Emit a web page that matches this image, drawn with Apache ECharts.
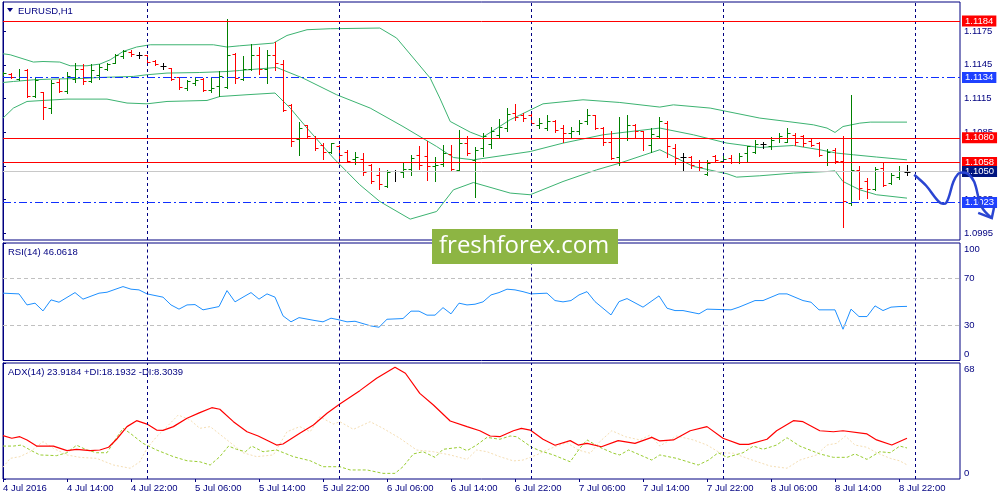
<!DOCTYPE html>
<html lang="en">
  <head>
    <meta charset="UTF-8" />
    <title>EURUSD,H1</title>
    <style>
      body {
        margin: 0;
        background: #fff;
      }
      #main {
        width: 1000px;
        height: 500px;
      }
    </style>
  </head>
  <body>
    <div id="main"></div>
    <script src="https://cdn.jsdelivr.net/npm/echarts@6/dist/echarts.min.js"></script>

    <script>
      const FONT = '"Liberation Sans", Arial, sans-serif';
      const NAVY = "#000080";
      const X_MAX = 119.625; // bars that fit in the plot (8px per bar)

      // x axis: one label every 8 hourly bars
      const tickLabels = [
        "4 Jul 2016", "4 Jul 14:00", "4 Jul 22:00", "5 Jul 06:00", "5 Jul 14:00",
        "5 Jul 22:00", "6 Jul 06:00", "6 Jul 14:00", "6 Jul 22:00", "7 Jul 06:00",
        "7 Jul 14:00", "7 Jul 22:00", "8 Jul 06:00", "8 Jul 14:00", "8 Jul 22:00",
      ];
      // midnight separators (bar index)
      const daySeparators = [18, 42, 66, 90, 114];

      // OHLC, one value per hourly bar
      const opens = [
        1.11362, 1.11373, 1.11326, 1.11406, 1.11177, 1.11208, 1.1107, 1.11297, 1.11219, 1.11323,
        1.11415, 1.11308, 1.11362, 1.11413, 1.11471, 1.11531, 1.11569, 1.1154, 1.11534, 1.11487,
        1.11442, 1.11418, 1.11338, 1.11243, 1.11288, 1.11326, 1.11228, 1.11258, 1.11252, 1.11546,
        1.11323, 1.11415, 1.11534, 1.11415, 1.1154, 1.11457, 1.11094, 1.10792, 1.1091, 1.10803,
        1.10738, 1.10673, 1.10723, 1.10678, 1.10613, 1.10613, 1.1056, 1.10471, 1.10367, 1.10506,
        1.105, 1.10524, 1.10649, 1.10634, 1.10545, 1.10566, 1.10655, 1.10515, 1.10753, 1.10604,
        1.10709, 1.10744, 1.10821, 1.10887, 1.11021, 1.11005, 1.10999, 1.10916, 1.10887, 1.10952,
        1.10887, 1.10842, 1.10857, 1.10946, 1.10999, 1.10887, 1.10767, 1.10625, 1.10803, 1.1091,
        1.10857, 1.10738, 1.10812, 1.10931, 1.10711, 1.10631, 1.10625, 1.10589, 1.1048, 1.10634,
        1.10598, 1.1062, 1.10589, 1.10669, 1.10678, 1.10747, 1.10723, 1.10798, 1.10767, 1.10827,
        1.10812, 1.10776, 1.10753, 1.10589, 1.10694, 1.10598, 1.10219, 1.10515, 1.1042, 1.10343,
        1.1053, 1.10397, 1.1045, 1.105,
      ];
      const highs = [
        1.11386, 1.11382, 1.11415, 1.11413, 1.11338, 1.1121, 1.11317, 1.11323, 1.11386, 1.11466,
        1.11454, 1.11454, 1.1146, 1.11471, 1.11549, 1.11585, 1.11578, 1.11569, 1.1154, 1.11495,
        1.11466, 1.11424, 1.11341, 1.11317, 1.11338, 1.11332, 1.11329, 1.11395, 1.11861, 1.1156,
        1.11525, 1.11635, 1.11605, 1.11585, 1.11653, 1.11495, 1.11101, 1.1094, 1.10916, 1.10812,
        1.10753, 1.10753, 1.10732, 1.10694, 1.10678, 1.10664, 1.10569, 1.1053, 1.10513, 1.10513,
        1.10575, 1.10649, 1.10723, 1.10776, 1.10629, 1.10732, 1.10738, 1.10872, 1.10818, 1.1072,
        1.10842, 1.10901, 1.1097, 1.1107, 1.11101, 1.11021, 1.11012, 1.10976, 1.10999, 1.10961,
        1.1091, 1.10901, 1.10961, 1.11059, 1.11005, 1.10901, 1.10863, 1.1099, 1.10999, 1.10923,
        1.10863, 1.10887, 1.1099, 1.10946, 1.10747, 1.10664, 1.10634, 1.10604, 1.10604, 1.10649,
        1.1064, 1.10649, 1.10669, 1.10729, 1.10783, 1.10767, 1.10807, 1.10842, 1.10887, 1.10842,
        1.10827, 1.10789, 1.10767, 1.107, 1.10709, 1.10818, 1.11184, 1.10545, 1.10441, 1.10536,
        1.1058, 1.10486, 1.10551, 1.1056,
      ];
      const lows = [
        1.11359, 1.11329, 1.11311, 1.11168, 1.11168, 1.10967, 1.11021, 1.11204, 1.11199, 1.11297,
        1.11279, 1.11297, 1.11326, 1.11406, 1.11466, 1.11511, 1.11531, 1.11511, 1.11466, 1.11446,
        1.11413, 1.11311, 1.11234, 1.11228, 1.11273, 1.11213, 1.1121, 1.11177, 1.11243, 1.11288,
        1.11311, 1.11406, 1.11371, 1.11288, 1.11406, 1.11035, 1.10723, 1.10643, 1.10798, 1.10694,
        1.10613, 1.10664, 1.10598, 1.10589, 1.10566, 1.10471, 1.10397, 1.10346, 1.10358, 1.1042,
        1.1045, 1.10465, 1.10524, 1.10426, 1.1042, 1.10545, 1.10509, 1.10509, 1.10649, 1.10275,
        1.10634, 1.10709, 1.10798, 1.10863, 1.10961, 1.10952, 1.10923, 1.10887, 1.10872, 1.10851,
        1.10767, 1.10803, 1.10833, 1.10923, 1.10881, 1.10738, 1.10613, 1.1056, 1.10783, 1.10798,
        1.10694, 1.10678, 1.10798, 1.10631, 1.10569, 1.10509, 1.1053, 1.10515, 1.10471, 1.10589,
        1.10589, 1.1058, 1.10575, 1.10589, 1.10664, 1.10709, 1.107, 1.10759, 1.10759, 1.10738,
        1.10723, 1.10723, 1.1064, 1.1056, 1.1058, 1.1001, 1.10203, 1.10254, 1.10263, 1.10337,
        1.10367, 1.10388, 1.10432, 1.10471,
      ];
      const closes = [
        1.1138, 1.11344, 1.11344, 1.11177, 1.11317, 1.11074, 1.11288, 1.11219, 1.11347, 1.11415,
        1.11302, 1.11406, 1.1143, 1.1146, 1.11537, 1.11573, 1.11543, 1.1154, 1.11475, 1.11457,
        1.11442, 1.11326, 1.11252, 1.11302, 1.11317, 1.11228, 1.11243, 1.11347, 1.1154, 1.11335,
        1.11415, 1.1154, 1.11415, 1.1154, 1.11466, 1.11044, 1.10774, 1.10887, 1.10812, 1.10709,
        1.10673, 1.10753, 1.10643, 1.10598, 1.10625, 1.105, 1.1042, 1.10391, 1.105, 1.10506,
        1.10524, 1.1062, 1.10554, 1.10545, 1.1056, 1.10664, 1.10524, 1.10753, 1.10664, 1.10694,
        1.10812, 1.10857, 1.10901, 1.11014, 1.1099, 1.10981, 1.10931, 1.10931, 1.10952, 1.10872,
        1.10842, 1.10857, 1.10931, 1.11005, 1.10887, 1.10767, 1.1062, 1.10803, 1.1091, 1.10857,
        1.10798, 1.10833, 1.10946, 1.10723, 1.1062, 1.10631, 1.1056, 1.10536, 1.10578, 1.10604,
        1.10611, 1.10589, 1.10634, 1.10723, 1.10744, 1.10747, 1.10783, 1.10818, 1.10842, 1.10759,
        1.10753, 1.10738, 1.10649, 1.10678, 1.10598, 1.10233, 1.10515, 1.10352, 1.10343, 1.10522,
        1.10382, 1.10471, 1.10506, 1.105,
      ];

      // Bollinger bands, read as [bar index, price]
      const bbUpper = [
        [0, 1.11549], [0.9, 1.1154], [3.8, 1.11475], [5, 1.1148], [7.1, 1.11475], [8.4, 1.11442],
        [10.5, 1.11442], [12.1, 1.11457], [13.4, 1.11495], [15, 1.11569], [16.7, 1.11609],
        [18.4, 1.11629], [26.3, 1.11629], [28, 1.11609], [29.6, 1.1162], [33.8, 1.11644],
        [35.5, 1.11712], [38, 1.11763], [40.9, 1.11772], [47.1, 1.11778], [49.2, 1.11689],
        [51.3, 1.11511], [53.4, 1.11332], [54.6, 1.11154], [55.9, 1.10946], [58.4, 1.10851],
        [60, 1.10807], [63.4, 1.10961], [67.5, 1.11103], [72.5, 1.11139], [77.1, 1.11115],
        [82.1, 1.11074], [83.8, 1.11094], [88.4, 1.11065], [94.6, 1.10976], [98, 1.10946],
        [101.3, 1.10916], [103, 1.10887], [104, 1.10848], [105, 1.10901], [107.1, 1.10931],
        [108.4, 1.1094], [113, 1.1094],
      ];
      const bbMiddle = [
        [0, 1.11293], [1.3, 1.11302], [3.8, 1.11317], [5.9, 1.11323], [10, 1.11329],
        [12.1, 1.11338], [16.3, 1.11347], [18, 1.11362], [20.5, 1.11377], [24.6, 1.11382],
        [28, 1.11391], [29.6, 1.114], [34.2, 1.11427], [37.5, 1.11332], [41.7, 1.11184],
        [45.9, 1.11065], [50, 1.10901], [54.2, 1.10723], [56.3, 1.10625], [58.8, 1.10604],
        [65.9, 1.10678], [70, 1.10753], [75, 1.10827], [82.1, 1.10887], [86.3, 1.10827],
        [90.5, 1.10753], [94.6, 1.10714], [98.8, 1.10732], [102.1, 1.10694], [104.2, 1.10664],
        [106.3, 1.10649], [109.2, 1.10629], [113, 1.10604],
      ];
      const bbLower = [
        [0, 1.10976], [1.3, 1.11065], [3, 1.11124], [5, 1.11133], [8, 1.11145], [13, 1.11145],
        [15.5, 1.1111], [18, 1.11103], [20.5, 1.11124], [25.5, 1.11133], [27.1, 1.11168],
        [30.5, 1.11184], [34, 1.11199], [35.9, 1.11065], [38, 1.10887], [41.3, 1.1062],
        [44.6, 1.10382], [47.1, 1.10233], [50.9, 1.10076], [54.2, 1.10144], [56.3, 1.10337],
        [58.8, 1.10402], [63.4, 1.10308], [65.9, 1.10293], [70, 1.10411], [74.2, 1.10515],
        [77.1, 1.10575], [82.1, 1.10694], [86.3, 1.10545], [90.5, 1.1048], [91.7, 1.1045],
        [94.6, 1.10462], [98.8, 1.10486], [103, 1.105], [104, 1.10506], [105, 1.10411],
        [107.1, 1.10337], [109.2, 1.10293], [113, 1.10263],
      ];

      // horizontal levels drawn on the chart
      const redLevels = [1.1184, 1.108, 1.1058];
      const blueLevels = [1.1134, 1.1023];
      const bidPrice = 1.105;
      const priceTicks = [1.1175, 1.1145, 1.1115, 1.1085, 1.1055, 1.1025, 1.0995];

      // hand drawn forecast stroke [bar index, price]
      const sketch = [
        [113.9, 1.10471], [115.4, 1.10373], [117.1, 1.10224], [117.9, 1.10221], [118.8, 1.10408],
        [119.4, 1.1048], [119.9, 1.10491], [120.6, 1.1048], [121.4, 1.10408], [122.3, 1.10188],
        [123.6, 1.10085],
      ];
      const sketchHead = [[121.9, 1.10132], [123.6, 1.10085], [123.9, 1.10186]];

      // RSI(14)
      const rsi = [
        [0, 57.3], [2, 56.7], [3, 47.3], [4, 48.8], [5, 42.2], [6, 51.6], [7, 49.6], [9, 57.8],
        [10, 52.2], [12, 57.3], [13, 58.1], [15, 62.9], [16, 60.7], [17, 60.1], [18, 56.7],
        [20, 53.9], [21, 47.3], [22, 43.7], [23, 47.3], [24, 47.6], [25, 43.1], [27, 45.9],
        [28, 59.5], [29, 49.9], [30, 53.9], [31, 57.8], [32, 52.2], [33, 56.7], [34, 53.9],
        [35, 38.0], [36, 32.9], [37, 36.5], [39, 34.0], [40, 32.9], [41, 36.0], [42, 34.6],
        [43, 32.9], [44, 33.4], [46, 29.4], [47, 28.3], [48, 35.1], [50, 35.7], [51, 42.0],
        [52, 42.0], [53, 38.6], [54, 38.6], [55, 45.0], [56, 39.7], [57, 48.8], [58, 47.3],
        [59, 47.9], [60, 49.9], [61, 55.8], [62, 57.8], [63, 60.7], [64, 60.1], [65, 58.6],
        [66, 56.7], [68, 57.3], [69, 51.0], [70, 49.9], [71, 51.0], [72, 55.8], [73, 58.6],
        [74, 50.1], [76, 38.8], [77, 50.1], [78, 52.7], [80, 45.4], [82, 55.0], [83, 44.5],
        [84, 42.5], [85, 42.5], [87, 39.7], [88, 43.7], [91, 43.1], [92, 45.4], [94, 51.0],
        [95, 51.0], [97, 56.7], [98, 56.7], [100, 51.0], [101, 49.6], [102, 43.1], [104, 43.1],
        [105, 26.6], [106, 43.7], [107, 37.4], [108, 37.4], [109, 46.5], [110, 42.5],
        [111, 45.4], [112, 45.9], [113, 46.06],
      ];
      const rsiLevels = [70, 30];
      const rsiTicks = [100, 70, 30, 0];

      // ADX(14) with +DI / -DI
      const adx = [
        [0, 25.4], [1.1, 23.9], [2.1, 24.8], [3, 22.9], [4.2, 19.3], [6.3, 19.3], [8, 16.6],
        [9.2, 17.4], [10.9, 16.6], [12.1, 17.0], [13.2, 18.6], [14.2, 23.3], [15.5, 30.7],
        [16.7, 34.2], [18, 32.2], [19.2, 28.7], [20, 28.5], [21.3, 30.7], [23, 35.6],
        [24.6, 38.9], [26.1, 41.8], [27.1, 40.9], [28.8, 33.6], [30.5, 27.7], [31.9, 25.2],
        [34.2, 19.9], [35, 20.5], [37.1, 26.8], [38.8, 31.7], [40.5, 38.5], [42.1, 44.0],
        [44.6, 51.8], [46.7, 59.0], [49, 65.5], [50.3, 62.0], [52.1, 50.2], [53.8, 43.4],
        [55.9, 34.0], [58, 30.7], [59.6, 28.3], [60.9, 25.2], [62.1, 24.8], [63.8, 28.3],
        [64.8, 29.7], [65.9, 28.7], [67.5, 23.3], [69, 19.8], [70.9, 22.5], [71.9, 19.9],
        [73, 20.9], [74.8, 18.9], [76.9, 22.5], [79, 20.9], [81.1, 24.4], [82.1, 22.3],
        [83.8, 22.9], [85.9, 28.3], [88, 30.7], [90, 23.9], [92.1, 20.3], [93.2, 20.3],
        [95.5, 23.3], [96.7, 28.3], [98.8, 34.2], [100, 33.6], [102.1, 28.3], [103.8, 27.7],
        [105, 28.3], [108, 26.4], [109.2, 22.9], [111.1, 19.9], [113, 23.92],
      ];
      const plusDi = [
        [0, 19.3], [1.3, 19.3], [2.3, 19.9], [3.4, 17.0], [4.6, 14.1], [6.7, 13.7], [8, 15.4],
        [9.2, 19.8], [10.5, 17.0], [11.7, 15.4], [13, 15.4], [14, 22.9], [15, 29.7], [15.9, 26.8],
        [17.5, 20.9], [19.2, 17.0], [21.3, 13.1], [23, 10.7], [24.6, 10.1], [25.9, 8.2],
        [27.1, 13.1], [28.2, 19.3], [29.2, 17.4], [30.3, 16.0], [31.1, 19.3], [32.5, 16.0],
        [34.2, 17.0], [36.3, 13.1], [38.4, 10.7], [40, 7.2], [42.1, 7.2], [43.4, 5.3],
        [45.5, 5.3], [47.5, 3.3], [49, 3.3], [50, 7.2], [51.3, 14.7], [52.5, 16.0], [54, 12.7],
        [55, 17.4], [57.1, 18.6], [58, 16.6], [59.2, 19.9], [60.5, 24.4], [62.1, 23.3],
        [63.4, 25.2], [64.2, 24.8], [66.1, 18.6], [67.1, 16.6], [68.8, 14.1], [70.9, 10.1],
        [72.1, 18.0], [73, 22.9], [74.6, 18.6], [76.3, 15.1], [77.1, 14.1], [78.2, 17.0],
        [81.1, 11.1], [82.1, 14.1], [84.2, 12.1], [86.9, 8.2], [88.2, 11.1], [89.4, 15.4],
        [90.5, 12.7], [92.5, 15.4], [93.8, 19.3], [95, 17.4], [96.7, 19.9], [98, 24.2],
        [99.6, 19.3], [102.1, 14.7], [103.8, 12.7], [105.5, 12.7], [106.5, 14.7], [108, 11.5],
        [109.6, 16.0], [110.9, 15.4], [112.1, 19.3], [113, 18.19],
      ];
      const minusDi = [
        [0, 6.9], [0.9, 12.1], [2.1, 13.1], [3.4, 16.0], [5, 21.9], [6.3, 18.0], [8, 14.1],
        [9.6, 12.7], [11.7, 12.1], [13.8, 8.2], [15.9, 6.3], [17.1, 10.1], [18, 18.0],
        [19.2, 24.8], [20.5, 30.7], [21.9, 37.5], [23.4, 34.6], [24.6, 29.7], [25.9, 30.7],
        [28, 22.9], [30, 15.4], [31.7, 13.1], [33.8, 14.1], [35.5, 27.7], [37.1, 30.7],
        [38.4, 27.7], [39.6, 36.5], [41.3, 32.2], [42.1, 33.6], [43.8, 29.1], [45.9, 33.6],
        [47.5, 29.7], [49.6, 23.9], [51.7, 17.0], [53.8, 16.0], [55.9, 14.1], [58, 11.5],
        [59.2, 17.0], [60.5, 16.0], [62.1, 13.1], [63.8, 10.6], [65, 11.1], [66.7, 14.1],
        [68, 17.0], [69.2, 19.3], [70.5, 21.3], [71.9, 17.0], [73.4, 15.1], [74.6, 21.9],
        [76.1, 28.3], [77.8, 24.8], [79.6, 22.9], [80.9, 25.8], [82.1, 19.3], [84.2, 25.2],
        [86.3, 22.9], [88, 19.9], [89.6, 15.4], [91.3, 15.1], [93.4, 11.5], [95.9, 7.6],
        [98, 6.3], [99.6, 11.1], [101.7, 14.1], [103, 19.9], [104.2, 20.9], [105.3, 25.2],
        [106.5, 19.9], [108, 18.6], [109.2, 15.4], [110.9, 12.1], [112.1, 10.6], [113, 8.3],
      ];
      const adxTicks = [68, 0];

      const chart = echarts.init(document.getElementById("main"));

      const sepLines = daySeparators.map((x) => ({
        xAxis: x,
        lineStyle: { color: NAVY, type: [3, 3], width: 1 },
      }));

      const boxLabel = (boxColor) => ({
        show: true,
        position: "end",
        distance: 2,
        formatter: (p) => Number(p.value).toFixed(4),
        color: "#fff",
        backgroundColor: boxColor,
        padding: [1, 3, 0, 3],
        fontSize: 9.5,
        fontFamily: FONT,
      });

      const solidLevel = (value, color, boxColor) => ({
        yAxis: value,
        lineStyle: { color: color, type: "solid", width: 1 },
        label: boxLabel(boxColor),
      });

      const levelData = []
        .concat(redLevels.map((v) => solidLevel(v, "#ff0000", "#ff0000")))
        .concat([solidLevel(bidPrice, "#c8c8c8", "#00157f")]);

      const edgeLabel = (ticks) => ({
        customValues: ticks,
        color: NAVY,
        fontSize: 9.5,
        fontFamily: FONT,
        margin: 4,
        formatter: (v) =>
          v === ticks[0] ? "{top|" + v + "}" : v === ticks[ticks.length - 1] ? "{bot|" + v + "}" : String(v),
        rich: {
          top: { padding: [12, 0, 0, 0], color: NAVY, fontSize: 9.5, fontFamily: FONT },
          bot: { padding: [0, 0, 12, 0], color: NAVY, fontSize: 9.5, fontFamily: FONT },
        },
      });

      const gridBase = {
        left: 3,
        width: 957,
        show: true,
        borderColor: NAVY,
        borderWidth: 1,
        backgroundColor: "#fff",
      };

      const bandLine = (data) => ({
        type: "line",
        xAxisIndex: 0,
        yAxisIndex: 0,
        data: data,
        symbol: "none",
        silent: true,
        lineStyle: { color: "#3cb371", width: 1 },
        z: 2,
      });

      const headerText = (x, y, text) => ({
        type: "text",
        z: 50,
        x: x,
        y: y,
        style: { text: text, fill: NAVY, font: "9.5px " + FONT, verticalAlign: "middle" },
      });

      const option = {
        animation: false,
        backgroundColor: "#fff",
        grid: [
          Object.assign({ top: 2, height: 238 }, gridBase),
          Object.assign({ top: 243, height: 117.5 }, gridBase),
          Object.assign({ top: 363, height: 116 }, gridBase),
        ],
        xAxis: [0, 1, 2].map((g) => ({
          type: "value",
          gridIndex: g,
          min: 0,
          max: X_MAX,
          interval: 8,
          axisLine: { show: false },
          splitLine: { show: false },
          axisTick: { show: g === 2, length: 3, lineStyle: { color: NAVY } },
          axisLabel: {
            show: g === 2,
            showMaxLabel: false,
            align: "left",
            margin: 4,
            color: NAVY,
            fontSize: 9.5,
            fontFamily: FONT,
            formatter: (v) => tickLabels[v / 8] || "",
          },
        })),
        yAxis: [
          {
            type: "value",
            gridIndex: 0,
            position: "right",
            min: 1.0989,
            max: 1.1201,
            axisLine: { show: true, lineStyle: { color: NAVY } },
            axisTick: { show: true, length: 3, customValues: priceTicks, lineStyle: { color: NAVY } },
            axisLabel: {
              customValues: priceTicks,
              formatter: (v) => v.toFixed(4),
              color: NAVY,
              margin: 4,
              fontSize: 9.5,
              fontFamily: FONT,
            },
            splitLine: { show: false },
          },
          {
            type: "value",
            gridIndex: 1,
            position: "right",
            min: 0,
            max: 100,
            axisLine: { show: true, lineStyle: { color: NAVY } },
            axisTick: { show: true, length: 3, customValues: rsiTicks, lineStyle: { color: NAVY } },
            axisLabel: edgeLabel(rsiTicks),
            splitLine: { show: false },
          },
          {
            type: "value",
            gridIndex: 2,
            position: "right",
            min: 0,
            max: 68,
            axisLine: { show: true, lineStyle: { color: NAVY } },
            axisTick: { show: true, length: 3, customValues: adxTicks, lineStyle: { color: NAVY } },
            axisLabel: edgeLabel(adxTicks),
            splitLine: { show: false },
          },
        ],
        series: [
          Object.assign(bandLine(bbUpper), {
            markLine: { silent: true, symbol: ["none", "none"], label: { show: false }, data: sepLines },
          }),
          Object.assign(bandLine(bbMiddle), {
            markLine: { silent: true, precision: 4, symbol: ["none", "none"], data: levelData },
          }),
          bandLine(bbLower),
          {
            type: "custom",
            name: "EURUSD",
            xAxisIndex: 0,
            yAxisIndex: 0,
            clip: true,
            z: 3,
            data: opens.map((o, i) => [i, o, highs[i], lows[i], closes[i]]),
            encode: { x: 0, y: [1, 2, 3, 4] },
            renderItem: function (params, api) {
              const i = api.value(0);
              const o = api.value(1);
              const c = api.value(4);
              const pO = api.coord([i, o]);
              const pH = api.coord([i, api.value(2)]);
              const pL = api.coord([i, api.value(3)]);
              const pC = api.coord([i, c]);
              const x = Math.round(pH[0]) + 0.5;
              const col = c > o ? "#008000" : c < o ? "#ff0000" : "#000000";
              const st = { stroke: col, lineWidth: 1 };
              const yo = Math.round(pO[1]) + 0.5;
              const yc = Math.round(pC[1]) + 0.5;
              return {
                type: "group",
                children: [
                  { type: "line", shape: { x1: x, y1: Math.round(pH[1]), x2: x, y2: Math.round(pL[1]) + 1 }, style: st },
                  { type: "line", shape: { x1: x - 3, y1: yo, x2: x, y2: yo }, style: st },
                  { type: "line", shape: { x1: x, y1: yc, x2: x + 3, y2: yc }, style: st },
                ],
              };
            },
          },
          {
            type: "line",
            xAxisIndex: 1,
            yAxisIndex: 1,
            data: rsi,
            symbol: "none",
            silent: true,
            lineStyle: { color: "#1e90ff", width: 1 },
            markLine: {
              silent: true,
              symbol: ["none", "none"],
              label: { show: false },
              data: rsiLevels
                .map((v) => ({ yAxis: v, lineStyle: { color: "#c0c0c0", type: [4, 3], width: 1 } }))
                .concat(sepLines),
            },
          },
          {
            type: "line",
            xAxisIndex: 2,
            yAxisIndex: 2,
            data: minusDi,
            symbol: "none",
            silent: true,
            lineStyle: { color: "#f5deb3", width: 1, type: [2, 2] },
          },
          {
            type: "line",
            xAxisIndex: 2,
            yAxisIndex: 2,
            data: plusDi,
            symbol: "none",
            silent: true,
            lineStyle: { color: "#9acd32", width: 1, type: [3, 2] },
          },
          {
            type: "line",
            xAxisIndex: 2,
            yAxisIndex: 2,
            data: adx,
            symbol: "none",
            silent: true,
            lineStyle: { color: "#ff0000", width: 1.2 },
            markLine: { silent: true, symbol: ["none", "none"], label: { show: false }, data: sepLines },
          },
        ],
      };
      chart.setOption(option);

      // blue dash-dot support lines, the forecast stroke and the overlays are
      // graphic elements placed through the chart's own axes
      const toPx = (p) => chart.convertToPixel({ xAxisIndex: 0, yAxisIndex: 0 }, p);
      const plotLeft = toPx([0, blueLevels[0]])[0];
      const plotRight = toPx([X_MAX, blueLevels[0]])[0];

      const blueLevelGraphics = [];
      blueLevels.forEach((v) => {
        const y = Math.round(toPx([0, v])[1]) + 0.5;
        blueLevelGraphics.push({
          type: "line",
          z: 40,
          shape: { x1: plotLeft, y1: y, x2: plotRight, y2: y },
          style: { stroke: "#1030ff", lineWidth: 1, lineDash: [8, 3, 2, 3] },
        });
        blueLevelGraphics.push({
          type: "text",
          z: 45,
          x: plotRight + 2,
          y: y,
          style: {
            text: v.toFixed(4),
            fill: "#fff",
            font: "9.5px " + FONT,
            verticalAlign: "middle",
            backgroundColor: "#1f41ff",
            padding: [1, 3, 0, 3],
          },
        });
      });

      chart.setOption({
        graphic: [
          {
            type: "polygon",
            z: 50,
            shape: { points: [[7, 8], [13, 8], [10, 12]] },
            style: { fill: NAVY },
          },
          headerText(18, 11, "EURUSD,H1"),
          headerText(8, 252, "RSI(14) 46.0618"),
          headerText(8, 372, "ADX(14) 23.9184 +DI:18.1932 -DI:8.3039"),
        ]
          .concat(blueLevelGraphics)
          .concat([
            {
              type: "rect",
              z: 100,
              shape: { x: 432, y: 229, width: 186, height: 35 },
              style: { fill: "#8db543" },
            },
            {
              type: "text",
              z: 101,
              x: 439,
              y: 246,
              style: {
                text: "freshforex.com",
                fill: "#fff",
                font: '24px "Open Sans", sans-serif',
                verticalAlign: "middle",
              },
            },
            {
              type: "polyline",
              z: 60,
              shape: { points: sketch.map(toPx), smooth: 0.35 },
              style: { stroke: "#2a45d2", lineWidth: 2.5, fill: null },
            },
            {
              type: "polyline",
              z: 60,
              shape: { points: sketchHead.map(toPx) },
              style: { stroke: "#2a45d2", lineWidth: 2.5, fill: null },
            },
          ]),
      });
    </script>
  </body>
</html>
